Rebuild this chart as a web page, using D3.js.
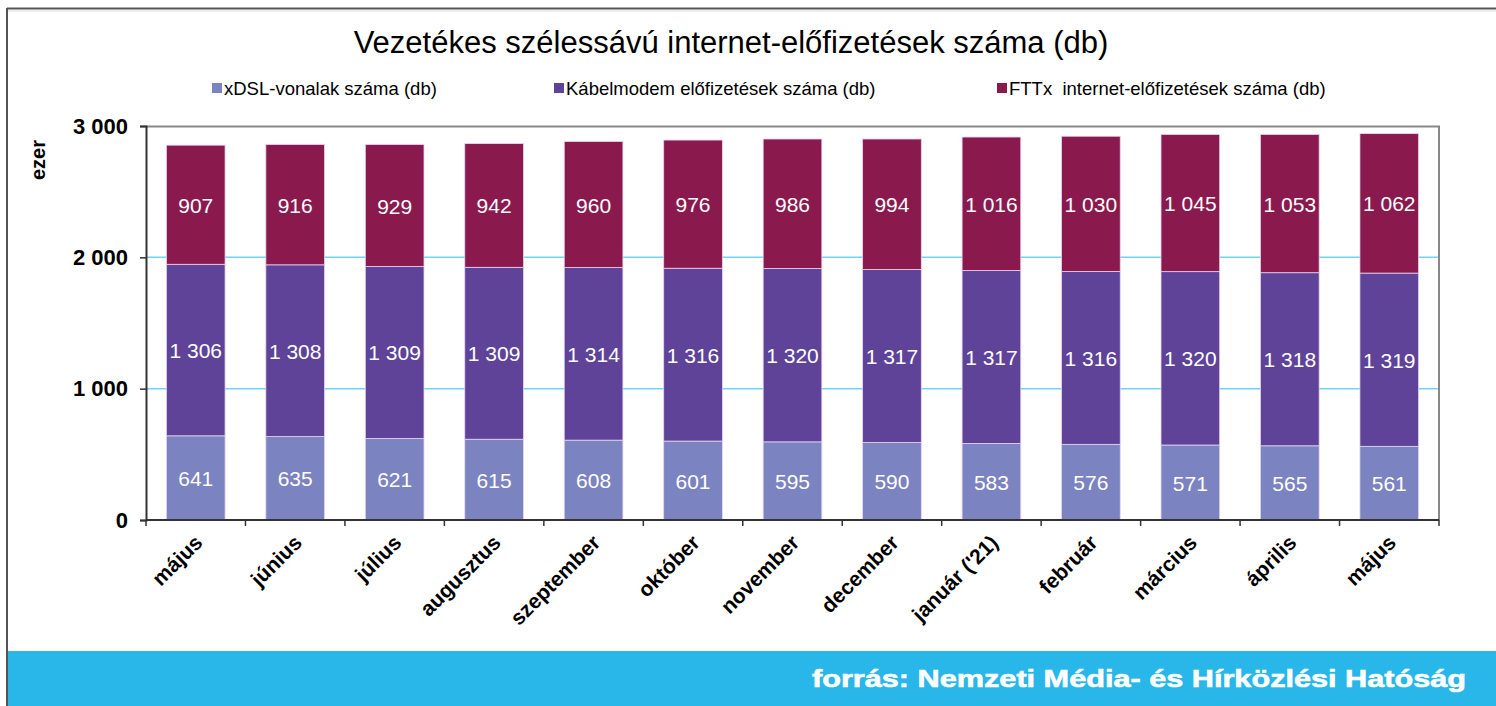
<!DOCTYPE html>
<html>
<head>
<meta charset="utf-8">
<script src="https://cdn.jsdelivr.net/npm/d3@7"></script>
<style>
  body { margin: 0; background: #fff; }
  svg { display: block; font-family: "Liberation Sans", Arial, sans-serif; }
</style>
</head>
<body>
<div id="chart"></div>
<script>
const months = ["május", "június", "július", "augusztus", "szeptember", "október", "november", "december", "január ('21)", "február", "március", "április", "május"];
const xdsl = [641, 635, 621, 615, 608, 601, 595, 590, 583, 576, 571, 565, 561];
const kabel = [1306, 1308, 1309, 1309, 1314, 1316, 1320, 1317, 1317, 1316, 1320, 1318, 1319];
const fttx = [907, 916, 929, 942, 960, 976, 986, 994, 1016, 1030, 1045, 1053, 1062];
const seriesNames = ["xDSL-vonalak száma (db)", "Kábelmodem előfizetések száma (db)", "FTTx  internet-előfizetések száma (db)"];
const yTicks = [0, 1000, 2000, 3000];

const W = 1496, H = 706;
const margin = { top: 126, right: 57, bottom: 186, left: 146 };
const width = W - margin.left - margin.right,
      height = H - margin.top - margin.bottom;

const color = { xdsl: "#7b83c0", kabel: "#5e4399", fttx: "#8a1a4e" };

const svg = d3.select("#chart").append("svg")
  .attr("width", W).attr("height", H);

// outer frame
svg.append("line").attr("x1", 7).attr("x2", 7).attr("y1", 8).attr("y2", H)
  .attr("stroke", "#555").attr("stroke-width", 2);
svg.append("line").attr("x1", 7).attr("x2", W).attr("y1", 8.5).attr("y2", 8.5)
  .attr("stroke", "#555").attr("stroke-width", 2);
svg.append("line").attr("x1", 8).attr("x2", W).attr("y1", 11).attr("y2", 11)
  .attr("stroke", "#ddd").attr("stroke-width", 1);

// bottom banner
svg.append("rect").attr("x", 8).attr("y", 651).attr("width", W - 8).attr("height", H - 651)
  .attr("fill", "#29b6e9");
svg.append("text")
  .attr("x", 812).attr("y", 687)
  .attr("fill", "white")
  .attr("font-size", 24)
  .attr("font-weight", "bold")
  .attr("stroke", "white").attr("stroke-width", 0.6)
  .attr("textLength", 654)
  .attr("lengthAdjust", "spacingAndGlyphs")
  .text("forrás: Nemzeti Média- és Hírközlési Hatóság");

// title
svg.append("text")
  .attr("x", 731).attr("y", 53)
  .attr("text-anchor", "middle")
  .attr("font-size", 31)
  .attr("fill", "#000")
  .text("Vezetékes szélessávú internet-előfizetések száma (db)");

// legend
const legendItems = [
  { name: seriesNames[0], c: color.xdsl, x: 212 },
  { name: seriesNames[1], c: color.kabel, x: 554 },
  { name: seriesNames[2], c: color.fttx, x: 997 }
];
legendItems.forEach(d => {
  svg.append("rect").attr("x", d.x).attr("y", 83).attr("width", 10).attr("height", 10).attr("fill", d.c);
  svg.append("text").attr("x", d.x + 12).attr("y", 95)
    .attr("font-size", 18.5).attr("fill", "#000")
    .style("white-space", "pre")
    .text(d.name);
});

const g = svg.append("g").attr("transform", `translate(${margin.left},${margin.top})`);

const x = d3.scaleBand().domain(d3.range(months.length)).range([0, width]).paddingInner(0.41).paddingOuter(0.205);
const y = d3.scaleLinear().domain([0, 3000]).range([height, 0]);

// gridlines
yTicks.filter(t => t > 0 && t < 3000).forEach(t => {
  g.append("line").attr("x1", 0).attr("x2", width).attr("y1", y(t)).attr("y2", y(t))
    .attr("stroke", "#6fd6f2").attr("stroke-width", 1.5);
});

// plot frame (top and right)
g.append("path")
  .attr("d", `M0,0.5H${width}V${height}`)
  .attr("fill", "none").attr("stroke", "#888").attr("stroke-width", 2);

// stacked bars
const rows = months.map((m, i) => ({ i, xdsl: xdsl[i], kabel: kabel[i], fttx: fttx[i] }));
const stack = d3.stack().keys(["xdsl", "kabel", "fttx"])(rows);

stack.forEach(layer => {
  g.selectAll(".bar-" + layer.key)
    .data(layer)
    .enter().append("rect")
    .attr("x", d => x(d.data.i))
    .attr("y", d => y(d[1]))
    .attr("width", x.bandwidth())
    .attr("height", d => y(d[0]) - y(d[1]))
    .attr("fill", color[layer.key])
    .attr("stroke", "#e8d4f0")
    .attr("stroke-width", 0.8);

  g.selectAll(".lbl-" + layer.key)
    .data(layer)
    .enter().append("text")
    .attr("x", d => x(d.data.i) + x.bandwidth() / 2)
    .attr("y", d => (y(d[0]) + y(d[1])) / 2 + 8)
    .attr("text-anchor", "middle")
    .attr("fill", "white")
    .attr("font-size", 21)
    .text(d => d3.format(",")(d.data[layer.key]).replace(",", " "));
});

// y axis
const yAxis = g.append("g")
  .call(d3.axisLeft(y).tickValues(yTicks).tickSize(6).tickPadding(12)
    .tickFormat(d => d3.format(",")(d).replace(",", " ")));
yAxis.select(".domain").attr("stroke", "#333").attr("stroke-width", 2);
yAxis.selectAll(".tick line").attr("stroke", "#333").attr("stroke-width", 1.5);
yAxis.selectAll("text").attr("font-size", 22).attr("font-weight", "bold").attr("fill", "#000")
  .attr("font-family", "Liberation Sans, Arial, sans-serif");

// x axis
const xTickPos = d3.range(months.length + 1).map(i => i * width / months.length);
g.append("line").attr("x1", 0).attr("x2", width).attr("y1", height).attr("y2", height)
  .attr("stroke", "#333").attr("stroke-width", 2);
xTickPos.forEach(p => {
  g.append("line").attr("x1", p).attr("x2", p).attr("y1", height).attr("y2", height + 6)
    .attr("stroke", "#333").attr("stroke-width", 1.5);
});

g.selectAll(".xlabel")
  .data(months)
  .enter().append("text")
  .attr("transform", (d, i) => `translate(${x(i) + x.bandwidth() / 2 + 8},${height + 24}) rotate(-45)`)
  .attr("text-anchor", "end")
  .attr("font-size", 21)
  .attr("font-weight", "bold")
  .attr("fill", "#000")
  .text(d => d);

// y label
svg.append("text")
  .attr("transform", "translate(45,160) rotate(-90)")
  .attr("text-anchor", "middle")
  .attr("font-size", 20)
  .attr("font-weight", "bold")
  .text("ezer");
</script>
</body>
</html>
